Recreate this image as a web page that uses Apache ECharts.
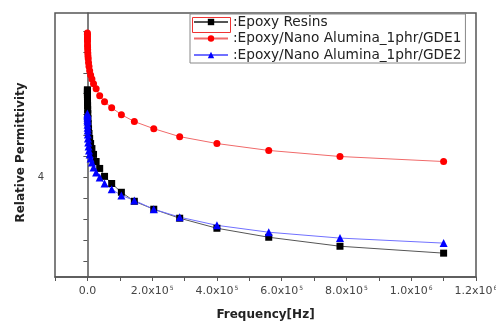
<!DOCTYPE html>
<html>
<head>
<meta charset="utf-8">
<script src="https://cdn.jsdelivr.net/npm/echarts@6.0.0/dist/echarts.min.js"></script>
<style>
  html, body { margin: 0; padding: 0; background: #fff; }
  #chart { width: 496px; height: 325px; }
</style>
</head>
<body>
<div id="chart"></div>
<script>
// frequency points (Hz), shared by all three series
const freq = [60, 85, 120, 170, 230, 330, 460, 650, 900, 1300, 1800, 2600, 3600, 5000, 7000,
  10000, 14000, 19000, 27000, 38000, 53000, 75000, 105000, 145000, 205000, 285000, 400000,
  560000, 780000, 1100000];

const epoxy = [4.419, 4.414, 4.405, 4.395, 4.386, 4.371, 4.357, 4.343, 4.324, 4.305, 4.281,
  4.257, 4.233, 4.21, 4.186, 4.162, 4.138, 4.11, 4.076, 4.043, 4.005, 3.971, 3.929, 3.886,
  3.848, 3.805, 3.757, 3.714, 3.671, 3.638];

const gde1 = [4.69, 4.683, 4.676, 4.667, 4.657, 4.648, 4.633, 4.624, 4.61, 4.595, 4.58,
  4.567, 4.548, 4.53, 4.51, 4.49, 4.471, 4.448, 4.424, 4.39, 4.362, 4.333, 4.3, 4.267,
  4.233, 4.195, 4.162, 4.129, 4.1, 4.076];

const gde2 = [4.305, 4.3, 4.295, 4.286, 4.276, 4.267, 4.252, 4.238, 4.224, 4.205, 4.186,
  4.167, 4.148, 4.129, 4.11, 4.09, 4.071, 4.048, 4.024, 4.0, 3.971, 3.943, 3.914, 3.89,
  3.848, 3.81, 3.771, 3.738, 3.71, 3.686];

const seriesNames = [":Epoxy Resins", ":Epoxy/Nano Alumina_1phr/GDE1", ":Epoxy/Nano Alumina_1phr/GDE2"];

// x tick labels: [value, mantissa, exponent]
const xTicks = [[0, "0.0", ""], [200000, "2.0x10", "5"], [400000, "4.0x10", "5"],
  [600000, "6.0x10", "5"], [800000, "8.0x10", "5"], [1000000, "1.0x10", "6"],
  [1200000, "1.2x10", "6"]];
const yTicks = [3.6, 3.7, 3.8, 3.9, 4.0, 4.1, 4.2, 4.3, 4.4, 4.5, 4.6, 4.7];
const yLabels = [4];

const pairs = (ys) => freq.map((f, i) => [f, ys[i]]);

const chart = echarts.init(document.getElementById("chart"));
chart.setOption({
  animation: false,
  grid: {
    left: 55, right: 20, top: 13, bottom: 48, outerBoundsMode: "none",
    show: true, borderColor: "#555", borderWidth: 1.5
  },
  legend: {
    left: 190, top: 14, orient: "vertical",
    itemWidth: 34, itemHeight: 8, itemGap: 2.5,
    padding: [1, 4, 1, 3],
    borderColor: "#888", borderWidth: 1,
    textStyle: { fontFamily: "DejaVu Sans", fontSize: 13.7, lineHeight: 14, color: "#222" },
    data: seriesNames
  },
  xAxis: {
    type: "value", min: -100000, max: 1200000, interval: 100000,
    splitLine: { show: false },
    axisLine: { onZero: false, lineStyle: { color: "#555", width: 1.5 } },
    axisTick: { length: 4, lineStyle: { color: "#555" } },
    axisLabel: {
      margin: 8,
      formatter: (v) => {
        const t = xTicks.find((d) => Math.abs(d[0] - v) < 1);
        if (!t) return "";
        return t[2] ? "{m|" + t[1] + "}{e|" + t[2] + "}" : "{m|" + t[1] + "}";
      },
      rich: {
        m: { fontFamily: "DejaVu Sans", fontSize: 11, color: "#444", lineHeight: 13 },
        e: { fontFamily: "DejaVu Sans", fontSize: 6, color: "#444", verticalAlign: "top", lineHeight: 13, padding: [0, 0, 6, 1] }
      }
    },
    name: "Frequency[Hz]", nameLocation: "middle", nameGap: 32,
    nameTextStyle: { fontFamily: "DejaVu Sans", fontSize: 12, fontWeight: "bold", color: "#222" }
  },
  yAxis: {
    type: "value", min: 3.524, max: 4.786,
    splitLine: { show: false },
    axisLine: { lineStyle: { color: "#555", width: 1.5 } },
    axisTick: { length: 4, customValues: yTicks, lineStyle: { color: "#555" } },
    axisLabel: {
      customValues: yLabels, margin: 11,
      fontFamily: "DejaVu Sans", fontSize: 10, color: "#444"
    },
    name: "Relative Permittivity", nameLocation: "middle", nameGap: 27,
    nameTextStyle: { fontFamily: "DejaVu Sans", fontSize: 12, fontWeight: "bold", color: "#222", padding: [0, 0, 0, -15] }
  },
  series: [
    {
      name: seriesNames[0], type: "line", data: pairs(epoxy),
      symbol: "rect", symbolSize: 7,
      itemStyle: { color: "#000" }, lineStyle: { color: "#555", width: 1 }
    },
    {
      name: seriesNames[1], type: "line", data: pairs(gde1),
      symbol: "circle", symbolSize: 7,
      itemStyle: { color: "#f00" }, lineStyle: { color: "#f06a6a", width: 1 }
    },
    {
      name: seriesNames[2], type: "line", data: pairs(gde2),
      symbol: "triangle", symbolSize: 8,
      itemStyle: { color: "#00f" }, lineStyle: { color: "#7070ff", width: 1 }
    }
  ],
  graphic: [{
    type: "rect", left: 190, top: 15, shape: { width: 38, height: 15 },
    style: { fill: "none", stroke: "#e33", lineWidth: 1 }, z: 100
  }]
});
</script>
</body>
</html>
